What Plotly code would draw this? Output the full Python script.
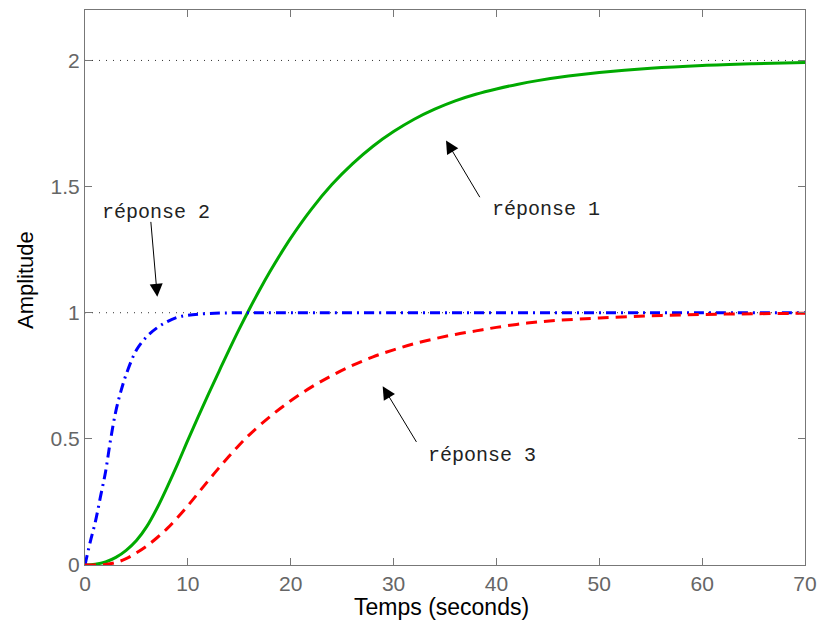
import plotly.graph_objects as go

# Response 1 (green, solid)
t1 = [0, 1, 2, 3, 4, 5, 6, 7, 8, 9, 10, 11, 12, 13, 14, 15, 16, 17, 18, 19, 20,
      22, 24, 26, 28, 30, 32, 34, 36, 38, 40, 42, 44, 47, 50, 55, 60, 65, 70]
y1 = [0, 0.003, 0.012, 0.03, 0.058, 0.097, 0.152, 0.225, 0.31, 0.40, 0.495,
      0.587, 0.677, 0.765, 0.852, 0.936, 1.016, 1.092, 1.164, 1.232, 1.296,
      1.41, 1.508, 1.59, 1.66, 1.718, 1.767, 1.807, 1.84, 1.866, 1.887, 1.905,
      1.92, 1.938, 1.952, 1.969, 1.98, 1.987, 1.992]

# Response 2 (blue, dash-dot)
t2 = [0, 0.5, 1, 1.5, 2, 2.5, 3, 3.5, 4, 5, 6, 7, 8, 9, 10, 12, 15, 20, 30, 40, 50, 60, 70]
y2 = [0, 0.09, 0.17, 0.27, 0.37, 0.50, 0.61, 0.69, 0.755, 0.852, 0.905, 0.94,
      0.965, 0.982, 0.99, 0.997, 1.0, 1.0, 1.0, 1.0, 1.0, 1.0, 1.0]

# Response 3 (red, dashed)
t3 = [0, 1, 2, 3, 4, 5, 6, 7, 8, 9, 10, 11, 12, 13, 14, 15, 16, 18, 20,
      22, 24, 26, 28, 30, 32, 34, 36, 38, 40, 43, 46, 50, 55, 60, 65, 70]
y3 = [0, 0, 0.002, 0.01, 0.025, 0.048, 0.075, 0.108, 0.145, 0.188, 0.235,
      0.285, 0.335, 0.384, 0.431, 0.476, 0.517, 0.589, 0.651, 0.705, 0.751,
      0.791, 0.825, 0.853, 0.877, 0.897, 0.914, 0.928, 0.942, 0.959, 0.97,
      0.979, 0.988, 0.993, 0.996, 0.998]

steady_values = [2, 1]
x_ticks = [0, 10, 20, 30, 40, 50, 60, 70]
y_ticks = [0, 0.5, 1, 1.5, 2]
y_tick_labels = ["0", "0.5", "1", "1.5", "2"]

labels = ["réponse 1", "réponse 2", "réponse 3"]
label_pos = [(44.8, 1.41), (6.9, 1.398), (38.6, 0.436)]
arrow_head = [(35.1, 1.683), (7.03, 1.063), (28.94, 0.709)]
arrow_tail = [(38.47, 1.452), (6.39, 1.366), (32.31, 0.482)]

fig = go.Figure()
fig.add_trace(go.Scatter(x=t1, y=y1, mode="lines", line=dict(color="#00aa00", width=3, shape="spline")))
fig.add_trace(go.Scatter(x=t2, y=y2, mode="lines",
                         line=dict(color="#0000ff", width=3, dash="10px,5px,2px,5px", shape="spline")))
fig.add_trace(go.Scatter(x=t3, y=y3, mode="lines",
                         line=dict(color="#ff0000", width=3, dash="11px,7px", shape="spline")))

shapes = []
for v in steady_values:
    shapes.append(dict(type="line", xref="paper", x0=0, x1=1, yref="y", y0=v, y1=v,
                       line=dict(color="#333333", width=1, dash="1px,6px"), layer="below"))

annotations = []
for lab, (lx, ly) in zip(labels, label_pos):
    annotations.append(dict(x=lx, y=ly, xref="x", yref="y", text=lab, showarrow=False,
                            font=dict(family="Liberation Mono", size=20, color="#222222")))
for (hx, hy), (tx, ty) in zip(arrow_head, arrow_tail):
    annotations.append(dict(x=hx, y=hy, xref="x", yref="y", ax=tx, ay=ty, axref="x", ayref="y",
                            text="", showarrow=True, arrowhead=2, arrowsize=2.6, arrowwidth=1,
                            arrowcolor="black", standoff=0, startstandoff=0))

# axis titles
annotations.append(dict(text="Temps (seconds)", xref="paper", yref="paper", x=0.495, y=0,
                        yshift=-42, yanchor="middle", xanchor="center", showarrow=False,
                        font=dict(family="Liberation Sans", size=23, color="black")))
annotations.append(dict(text="Amplitude", xref="paper", yref="paper", x=0, y=0.5135,
                        xshift=-60, xanchor="center", yanchor="middle", textangle=-90,
                        showarrow=False,
                        font=dict(family="Liberation Sans", size=22, color="black")))

axis_common = dict(showline=True, mirror="ticks", linecolor="#777777", linewidth=1,
                   ticks="inside", ticklen=7, tickcolor="#777777", showgrid=False, zeroline=False,
                   automargin=False,
                   tickfont=dict(family="Liberation Sans", size=21, color="#666666"))

fig.update_layout(
    width=819, height=623,
    margin=dict(l=85, r=14, t=10, b=58),
    paper_bgcolor="white", plot_bgcolor="white",
    showlegend=False,
    shapes=shapes,
    annotations=annotations,
    xaxis=dict(range=[0, 70], tickvals=x_ticks, **axis_common),
    yaxis=dict(range=[0, 2.2], tickvals=y_ticks, ticktext=y_tick_labels, **axis_common),
)

fig.write_html("out.html")
